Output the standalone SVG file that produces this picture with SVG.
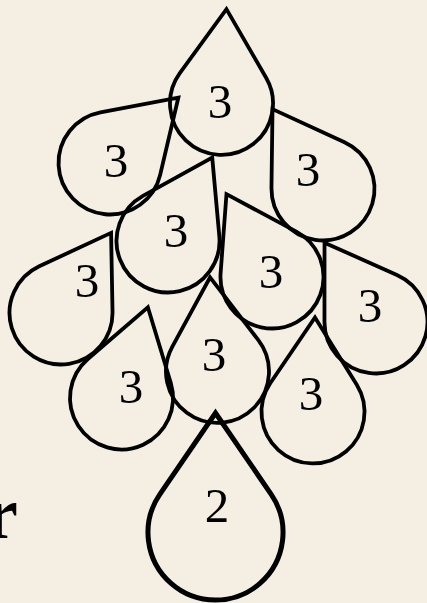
<svg xmlns="http://www.w3.org/2000/svg" width="427" height="603" viewBox="0 0 427 603">
<style>
.d{fill:none;stroke:#000;stroke-width:3.8;stroke-linejoin:miter;stroke-miterlimit:12}
.k{stroke-width:5}
.t{font-family:"Liberation Serif","DejaVu Serif",serif;font-size:49px;fill:#000;text-anchor:middle}
</style>
<defs>
<path id="drop" d="M0,-94.5 L43.2,-28.1 A51.5 51.5 0 1 1 -43.2,-28.1 Z"/>
</defs>
<rect width="427" height="603" fill="#f4efe2"/>
<text x="-15" y="538" style="font-family:'Liberation Serif',serif;font-weight:700;font-size:74px">r</text>
<g id="dA"><use href="#drop" class="d" transform="translate(221.5,103.5) rotate(3)"/><text class="t" x="220" y="118">3</text></g>
<g id="dB"><use href="#drop" class="d" transform="translate(110,163) rotate(46.3)"/><text class="t" x="116" y="177">3</text></g>
<g id="dC"><use href="#drop" class="d" transform="translate(323,189) rotate(-32.3)"/><text class="t" x="308" y="186">3</text></g>
<g id="dD"><use href="#drop" class="d" transform="translate(168,241) rotate(27.9)"/><text class="t" x="176" y="247">3</text></g>
<g id="dE"><use href="#drop" class="d" transform="translate(272,277) rotate(-28.8)"/><text class="t" x="271" y="288">3</text></g>
<g id="dF"><use href="#drop" class="d" transform="translate(61,313) rotate(32)"/><text class="t" x="87" y="297">3</text></g>
<g id="dG"><use href="#drop" class="d" transform="translate(376,322) rotate(-33)"/><text class="t" x="370" y="322">3</text></g>
<g id="dH"><use href="#drop" class="d" transform="translate(217.5,371.5) rotate(-4.5)"/><text class="t" x="214" y="371">3</text></g>
<g id="dI"><use href="#drop" class="d" transform="translate(121.5,398) rotate(16.2)"/><text class="t" x="131" y="403">3</text></g>
<g id="dJ"><use href="#drop" class="d" transform="translate(313,412) rotate(1.2)"/><text class="t" x="311" y="410">3</text></g>
<g id="dK"><path class="d k" transform="translate(215.5,532.5)" d="M0,-119.5 L55.7,-38.1 A67.5 67.5 0 1 1 -55.7,-38.1 Z"/><text class="t" x="217" y="522">2</text></g>
<g id="connectors"/>
</svg>
